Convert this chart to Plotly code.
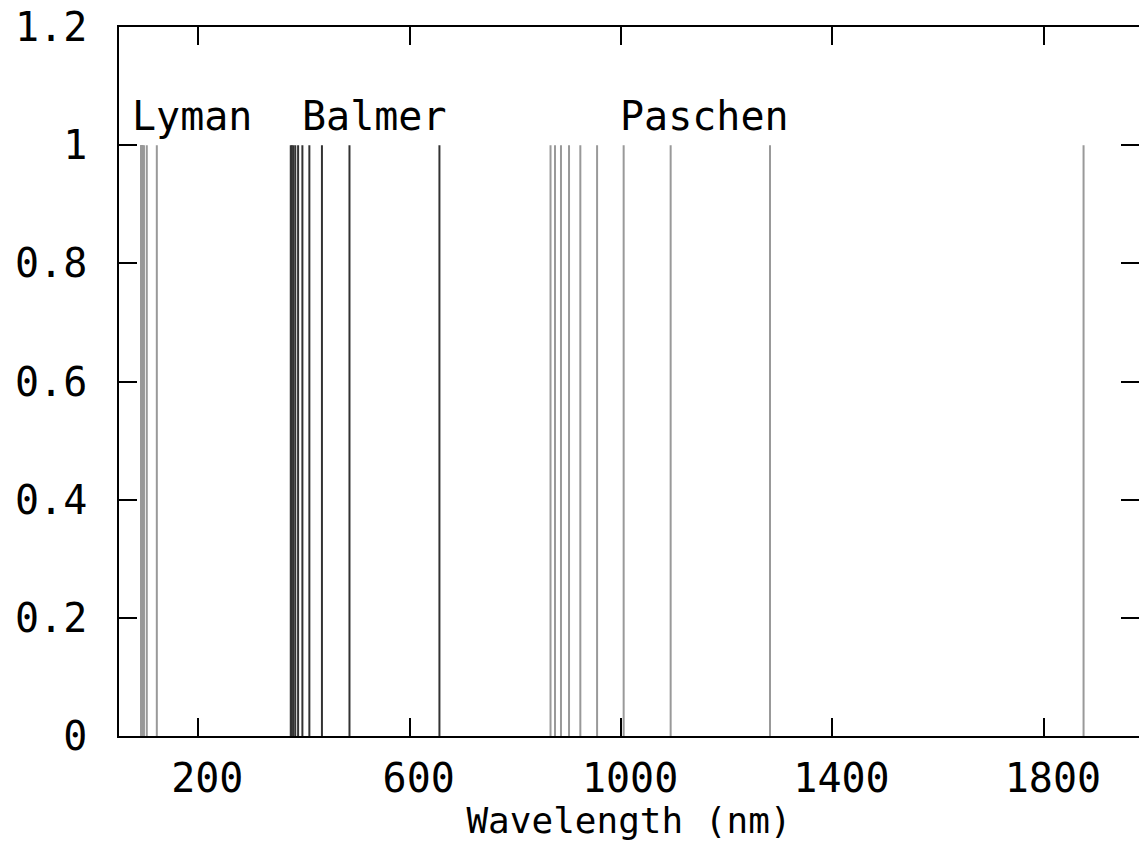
import plotly.graph_objects as go

# Hydrogen spectral line wavelengths (nm)
lyman = [121.57, 102.57, 97.25, 94.97, 93.78, 93.07, 92.62, 92.31, 92.10, 91.93]
balmer = [656.3, 486.1, 434.0, 410.2, 397.0, 388.9, 383.5, 379.8, 377.1, 375.0]
paschen = [1875.1, 1281.8, 1093.8, 1004.9, 954.6, 922.9, 901.5, 886.3, 875.0, 866.5]
line_height = 1.0

series_names = ["Lyman", "Balmer", "Paschen"]
series_label_x = [70, 392, 995]
series_label_y = 1.05

x_ticks = [200, 600, 1000, 1400, 1800]
y_ticks = [0, 0.2, 0.4, 0.6, 0.8, 1.0, 1.2]
y_ticktext = ["0", "0.2", "0.4", "0.6", "0.8", "1", "1.2"]

FONT = "DejaVu Sans Mono"
FS = 40


def sticks(wl):
    xs, ys = [], []
    for w in wl:
        xs += [w, w, None]
        ys += [0, line_height, None]
    return xs, ys


fig = go.Figure()
for name, wl, color, width in [
    ("Lyman", lyman, "#999999", 2),
    ("Balmer", balmer, "#333333", 2),
    ("Paschen", paschen, "#999999", 2),
]:
    xs, ys = sticks(wl)
    fig.add_trace(go.Scatter(x=xs, y=ys, mode="lines", name=name,
                             line=dict(color=color, width=width),
                             showlegend=False, hoverinfo="skip"))

for name, x in zip(series_names, series_label_x):
    fig.add_annotation(x=x, y=series_label_y, text=name, xanchor="left",
                       yanchor="middle", showarrow=False,
                       font=dict(family=FONT, size=FS, color="black"))

axis_common = dict(showline=True, linecolor="black", linewidth=1.5,
                   ticks="inside", ticklen=18, tickwidth=1.5, tickcolor="black",
                   mirror="ticks", showgrid=False, zeroline=False,
                   automargin=False,
                   tickfont=dict(family=FONT, size=FS, color="black"))

fig.update_layout(
    width=1139, height=841,
    margin=dict(l=119, r=0, t=27, b=105),
    paper_bgcolor="white", plot_bgcolor="white",
    xaxis=dict(range=[50, 1980], tickvals=x_ticks, ticklabelstandoff=6,
               ticklabelshift=9,
               title=dict(text="Wavelength (nm)", standoff=21,
                          font=dict(family=FONT, size=36, color="black")),
               **axis_common),
    yaxis=dict(range=[0, 1.2], tickvals=y_ticks, ticktext=y_ticktext,
               ticklabelstandoff=22, **axis_common),
)

fig.write_html("out.html", config={"displayModeBar": False},
               post_script="document.body.style.margin='0';"
                           "document.body.style.overflow='hidden';")
